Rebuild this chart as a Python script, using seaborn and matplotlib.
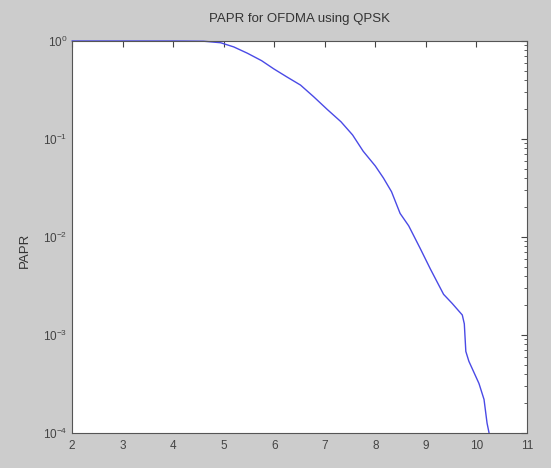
import matplotlib
matplotlib.use("Agg")
import matplotlib.pyplot as plt
import seaborn as sns
import numpy as np
import pandas as pd
from matplotlib.ticker import LogLocator, NullFormatter, FixedLocator

papr_db = [2.0, 3.0, 4.0, 4.6, 4.94, 5.2, 5.47, 5.75, 5.99, 6.25, 6.52, 6.78, 7.05, 7.32,
           7.55, 7.76, 8.0, 8.16, 8.32, 8.49, 8.66, 8.89, 9.09, 9.35, 9.52, 9.72,
           9.76, 9.79, 9.85, 10.05, 10.15, 10.21, 10.25]
ccdf = [1.0, 1.0, 1.0, 0.995, 0.96, 0.87, 0.75, 0.63, 0.52, 0.43, 0.355, 0.27, 0.2, 0.15,
        0.11, 0.075, 0.053, 0.04, 0.029, 0.0174, 0.013, 0.0076, 0.0047, 0.0026, 0.0021, 0.0016,
        0.0013, 0.00068, 0.00054, 0.00032, 0.00022, 0.000126, 0.0001]
x_ticks = [2, 3, 4, 5, 6, 7, 8, 9, 10, 11]

df = pd.DataFrame({"x": papr_db, "y": ccdf})

sns.set_style("white")
plt.rcParams["font.family"] = ["Liberation Sans", "DejaVu Sans"]
bg = "#cccccc"
fig = plt.figure(figsize=(5.51, 4.68), dpi=100, facecolor=bg)
ax = fig.add_axes([72/551, 1-433/468, (527-72)/551, (433-41)/468])
ax.set_facecolor("white")

sns.lineplot(data=df, x="x", y="y", ax=ax, color="#4a4ae6", linewidth=1.0,
             sort=False, estimator=None)
for ln in ax.lines:
    ln.set_clip_on(False)
ax.set_yscale("log")
ax.set_xlim(2, 11)
ax.set_ylim(1e-4, 1)
ax.xaxis.set_major_locator(FixedLocator(x_ticks))
ax.set_xticklabels([str(t) for t in x_ticks])
ax.yaxis.set_major_locator(LogLocator(base=10, numticks=10))
ax.yaxis.set_minor_locator(LogLocator(base=10, subs=np.arange(2, 10), numticks=10))
ax.yaxis.set_minor_formatter(NullFormatter())

tc = "#444444"
ax.tick_params(axis="both", which="both", direction="in", top=True, right=True,
               colors=tc, labelsize=8.5)
ax.tick_params(axis="x", which="major", pad=5)
ax.tick_params(axis="both", which="major", length=4)
ax.tick_params(axis="both", which="minor", length=2)
for s in ax.spines.values():
    s.set_color("#555555")
    s.set_linewidth(0.8)

ax.set_xlabel("")
ax.set_ylabel("PAPR", fontsize=9.5, color="#333333")
ax.yaxis.set_label_coords(-0.09, 0.467)
ax.set_title("PAPR for OFDMA using QPSK", fontsize=9.5, color="#333333", pad=14)

fig.savefig("out.png", dpi=100, facecolor=bg)
